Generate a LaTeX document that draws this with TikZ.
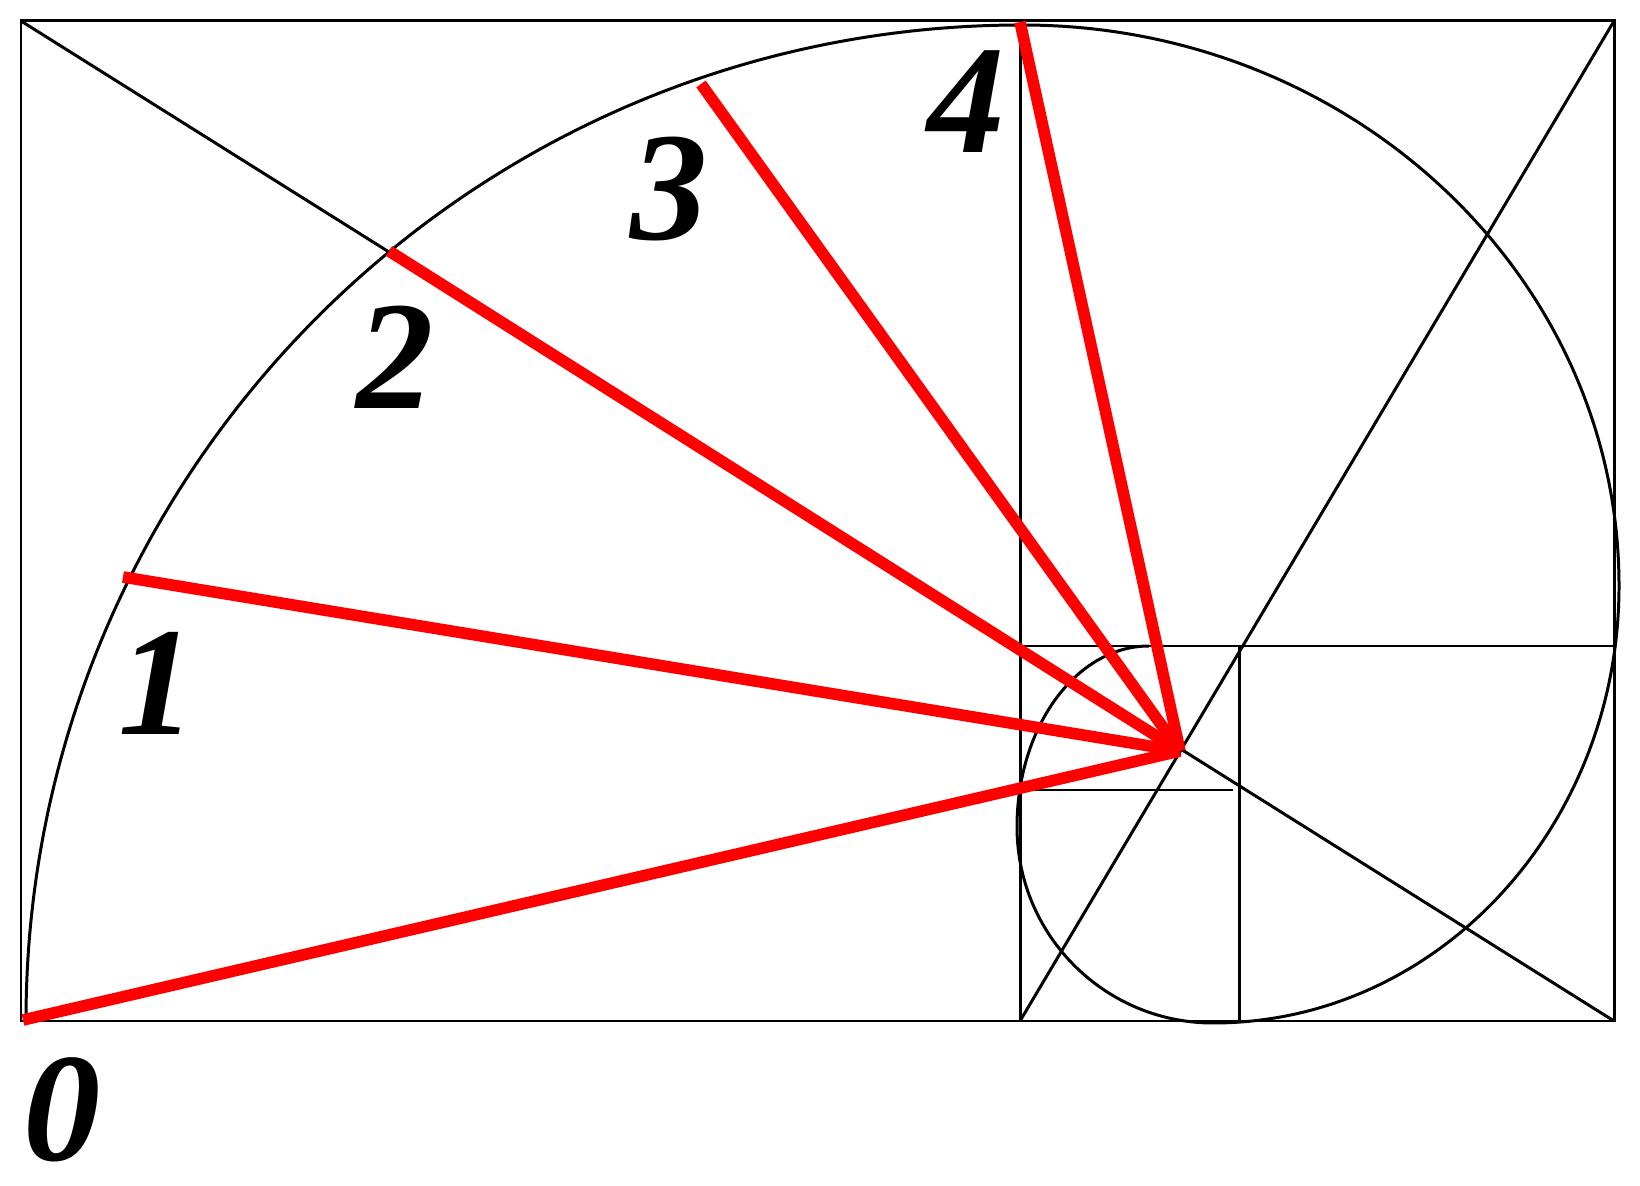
\documentclass[tikz,border=0pt]{standalone}
\usepackage{fontspec}
\setmainfont{Liberation Serif}
\usepackage{tikz}
\usetikzlibrary{calc}

\tikzset{
	thin line/.style={draw=black, line width=0.85pt},
	red ray/.style={draw=red, line width=3.3pt},
	digit/.style={inner sep=0pt, font=\fontsize{44}{44}\selectfont\bfseries\itshape}
}

\begin{document}
\begin{tikzpicture}[x=0.01cm,y=-0.01cm]
				\useasboundingbox (0,0) rectangle (1640,1186);
				\coordinate (c) at (1180,751);
				\coordinate (p0) at (23,1020);
				\coordinate (p1) at (123,577);
				\coordinate (p2) at (389,251);
				\coordinate (p3) at (701,84);
				\coordinate (p4) at (1020,22);
				\draw[thin line] (21,21) rectangle (1614,1021);
				\draw[thin line] (1020,21) to (1020,1021);
				\draw[thin line] (1020,646) to (1614,646);
				\draw[thin line] (1239,646) to (1239,1021);
				\draw[thin line] (1020,790) to (1233,790);
				\draw[thin line] (21,21) to (1614,1021);
				\draw[thin line] (1020,1021) to (1614,21);
				\draw[thin line] (26,1021) arc[start angle=180, end angle=270, radius=996]
					arc[start angle=270, end angle=360, x radius=597, y radius=561]
					arc[start angle=0, end angle=90, x radius=406, y radius=437]
					arc[start angle=90, end angle=180, x radius=196, y radius=196]
					arc[start angle=180, end angle=270, x radius=132, y radius=181];
				\draw[red ray] (c) to (p0);
				\draw[red ray] (c) to (p1);
				\draw[red ray] (c) to (p2);
				\draw[red ray] (c) to (p3);
				\draw[red ray] (c) to (p4);
				\node[digit] (n0) at (62,1110) {0};
				\node[digit] (n1) at (157,683) {1};
				\node[digit] (n2) at (395,357) {2};
				\node[digit] (n3) at (669,189) {3};
				\node[digit] (n4) at (966,102) {4};
\end{tikzpicture}
\end{document}
